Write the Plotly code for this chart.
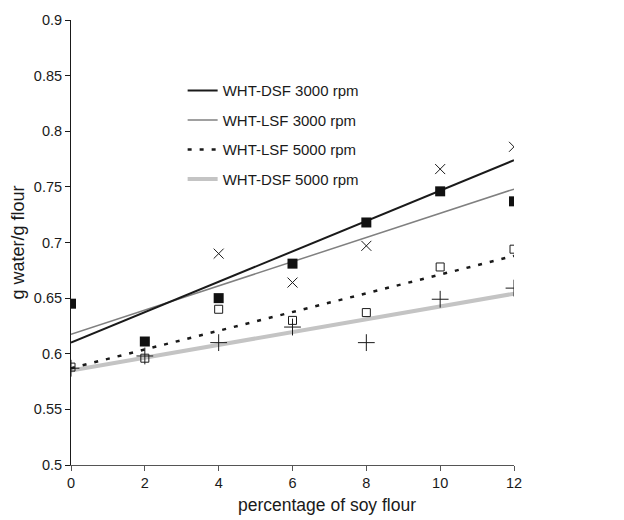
import plotly.graph_objects as go

# ---- data ----
pct = [0, 2, 4, 6, 8, 10, 12]
lsf3000_pts = [0.645, 0.611, 0.650, 0.681, 0.718, 0.746, 0.737]   # filled squares
lsf5000_pts = [0.588, 0.596, 0.640, 0.630, 0.637, 0.678, 0.694]   # open squares
dsf3000_x = [4, 6, 8, 10, 12]
dsf3000_pts = [0.690, 0.664, 0.697, 0.766, 0.786]                 # crosses
dsf5000_x = [0, 2, 4, 6, 8, 10, 12]
dsf5000_pts = [0.587, 0.598, 0.610, 0.624, 0.610, 0.649, 0.659]   # plus

trend_x = [0, 12]
trend_dsf3000 = [0.610, 0.774]
trend_lsf3000 = [0.6175, 0.748]
trend_lsf5000 = [0.587, 0.688]
trend_dsf5000 = [0.585, 0.654]

x_ticks = [0, 2, 4, 6, 8, 10, 12]
y_ticks = [0.5, 0.55, 0.6, 0.65, 0.7, 0.75, 0.8, 0.85, 0.9]
y_tick_text = ["0.5", "0.55", "0.6", "0.65", "0.7", "0.75", "0.8", "0.85", "0.9"]

DARK = "#1a1a1a"
fig = go.Figure()

# trend lines (legend)
fig.add_trace(go.Scatter(x=trend_x, y=trend_dsf5000, mode="lines", name="WHT-DSF 5000 rpm",
                         legendgroup="d", legendrank=4, line=dict(color="#c4c4c4", width=4)))
fig.add_trace(go.Scatter(x=trend_x, y=trend_lsf5000, mode="lines", name="WHT-LSF 5000 rpm",
                         legendgroup="c", legendrank=3, line=dict(color=DARK, width=2.5, dash="4px,8px")))
fig.add_trace(go.Scatter(x=trend_x, y=trend_lsf3000, mode="lines", name="WHT-LSF 3000 rpm",
                         legendgroup="b", legendrank=2, line=dict(color="#808080", width=1.5)))
fig.add_trace(go.Scatter(x=trend_x, y=trend_dsf3000, mode="lines", name="WHT-DSF 3000 rpm",
                         legendgroup="a", legendrank=1, line=dict(color=DARK, width=2)))

# markers (no legend)
fig.add_trace(go.Scatter(x=dsf5000_x, y=dsf5000_pts, mode="markers", showlegend=False,
                         marker=dict(symbol="cross-thin-open", size=12, color=DARK,
                                     line=dict(width=1, color=DARK))))
fig.add_trace(go.Scatter(x=pct, y=lsf5000_pts, mode="markers", showlegend=False,
                         marker=dict(symbol="square-open", size=8, color=DARK,
                                     line=dict(width=1, color=DARK))))
fig.add_trace(go.Scatter(x=dsf3000_x, y=dsf3000_pts, mode="markers", showlegend=False,
                         marker=dict(symbol="x-thin-open", size=10, color=DARK,
                                     line=dict(width=1, color=DARK))))
fig.add_trace(go.Scatter(x=pct, y=lsf3000_pts, mode="markers", showlegend=False,
                         marker=dict(symbol="square", size=10, color="#111111")))

font_family = "Liberation Sans, Arial, sans-serif"

# page has an 8px body margin: shrink the figure and margins so the plot area
# lands at the same place as in the reference (x 71..514, y 20..465)
fig.update_layout(
    width=616, height=512,
    margin=dict(l=63, r=110, t=12, b=55),
    paper_bgcolor="white", plot_bgcolor="white",
    font=dict(family=font_family, size=14, color=DARK),
    showlegend=True,
    legend=dict(x=0.252, y=0.878, xanchor="left", yanchor="top",
                bgcolor="rgba(0,0,0,0)", font=dict(size=15, color=DARK),
                tracegroupgap=7, traceorder="grouped", itemwidth=30),
    xaxis=dict(range=[0, 12], tickvals=x_ticks, showgrid=False, zeroline=False,
               showline=True, linecolor="#555555", linewidth=1,
               ticks="outside", ticklen=5, tickcolor="#555555",
               tickfont=dict(size=14.5), automargin=False),
    yaxis=dict(range=[0.5, 0.9], tickvals=y_ticks, ticktext=y_tick_text,
               showgrid=False, zeroline=False,
               showline=True, linecolor=DARK, linewidth=1,
               ticks="outside", ticklen=5, tickcolor=DARK,
               tickfont=dict(size=14.5), automargin=False,
               title=dict(text="g water/g flour", font=dict(size=18), standoff=8)),
    annotations=[dict(text="percentage of soy flour", xref="paper", yref="paper",
                      x=(327 - 71) / 443, y=-(505 - 465) / 445,
                      xanchor="center", yanchor="middle",
                      showarrow=False, font=dict(size=17.5))],
)

fig.write_html("out.html")
